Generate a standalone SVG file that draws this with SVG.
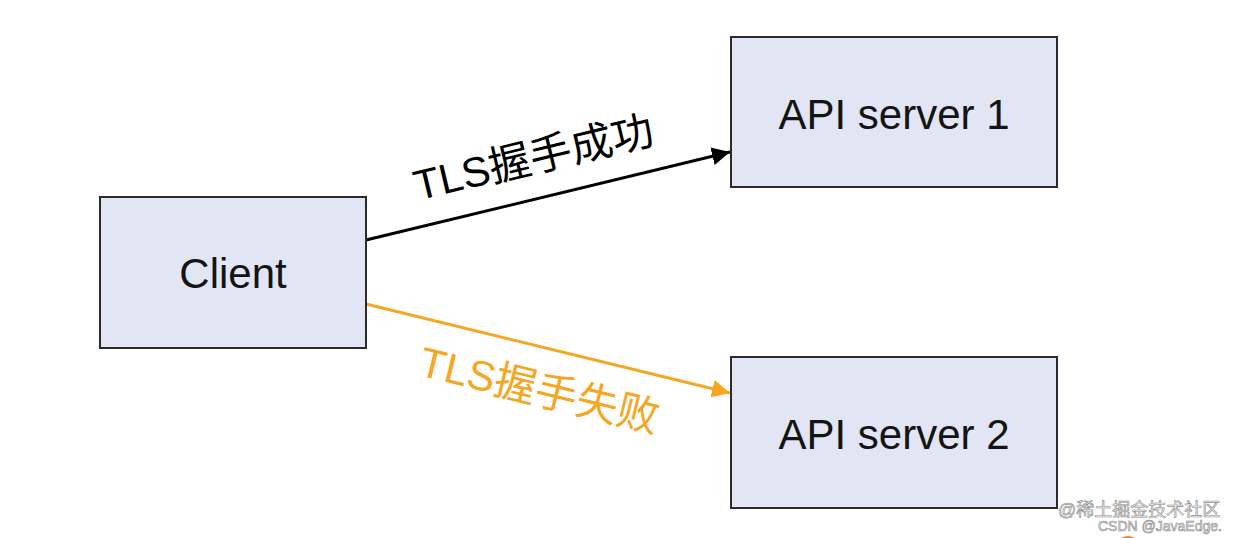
<svg xmlns="http://www.w3.org/2000/svg" width="1234" height="538" viewBox="0 0 1234 538">
<style>
.box{fill:#e1e5f4;stroke:#2b2b2b;stroke-width:2}
.lbl{font-family:"Liberation Sans","Noto Sans CJK SC",sans-serif;font-size:42px;fill:#141414;text-anchor:middle}
.edge{font-family:"Liberation Sans","Noto Sans CJK SC",sans-serif;font-size:42px;text-anchor:middle}
.wm{font-family:"Liberation Sans","Noto Sans CJK SC",sans-serif;fill:#f4f4f4;stroke:#8a8a8a;stroke-width:0.6}
</style>
<defs>
<marker id="ab" viewBox="0 0 10 10" refX="10" refY="5" markerWidth="6" markerHeight="6" orient="auto" markerUnits="strokeWidth"><path d="M0,0 L10,5 L0,10 z" fill="#000"/></marker>
<marker id="ao" viewBox="0 0 10 10" refX="10" refY="5" markerWidth="6" markerHeight="6" orient="auto" markerUnits="strokeWidth"><path d="M0,0 L10,5 L0,10 z" fill="#f5a623"/></marker>
</defs>
<rect width="1234" height="538" fill="#fff"/>
<g id="connectors">
<line x1="366" y1="240" x2="730" y2="152" stroke="#000" stroke-width="3" marker-end="url(#ab)"/>
<line x1="366" y1="304" x2="730" y2="393" stroke="#f5a623" stroke-width="3" marker-end="url(#ao)"/>
<text class="edge" fill="#000" transform="translate(537,172) rotate(-13.5)">TLS握手成功</text>
<text class="edge" fill="#f5a623" transform="translate(536,404) rotate(13.7)">TLS握手失败</text>
</g>
<g id="client">
<rect class="box" x="100" y="197" width="266" height="151"/>
<text class="lbl" x="233" y="288">Client</text>
</g>
<g id="api1">
<rect class="box" x="731" y="37" width="326" height="150"/>
<text class="lbl" x="894" y="129">API server 1</text>
</g>
<g id="api2">
<rect class="box" x="731" y="357" width="326" height="151"/>
<text class="lbl" x="894" y="449">API server 2</text>
</g>
<g id="watermark">
<circle cx="1128" cy="550" r="14" fill="#f08a3c"/>
<text class="wm" x="1058" y="516" font-size="18">@稀土掘金技术社区</text>
<text class="wm" x="1098" y="531" font-size="14">CSDN @JavaEdge.</text>
</g>
</svg>
